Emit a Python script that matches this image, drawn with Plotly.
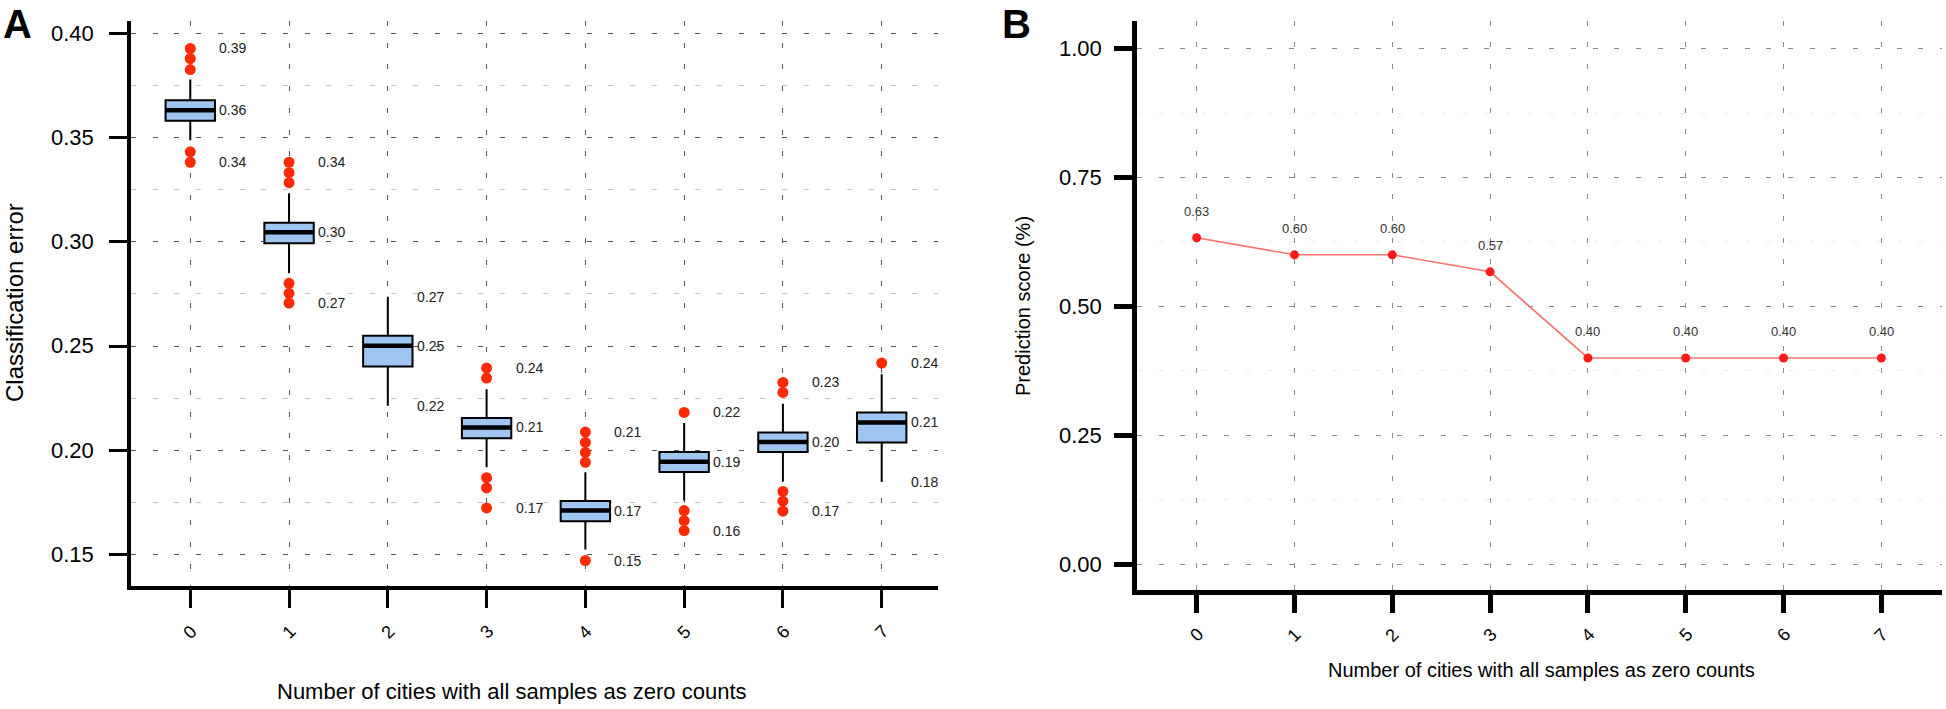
import plotly.graph_objects as go

W, H = 1946, 709

# ---------------- data ----------------
cities = [0, 1, 2, 3, 4, 5, 6, 7]
city_labels = ["0", "1", "2", "3", "4", "5", "6", "7"]

# Panel A: classification error box plots
q1 = [0.3581, 0.2993, 0.2402, 0.2057, 0.1659, 0.1895, 0.1991, 0.2037]
median = [0.3632, 0.3046, 0.2501, 0.2109, 0.1710, 0.1945, 0.2039, 0.2133]
q3 = [0.3680, 0.3092, 0.2549, 0.2154, 0.1756, 0.1991, 0.2085, 0.2181]
lower_whisker = [0.3488, 0.2849, 0.2213, 0.1918, 0.1523, 0.1758, 0.1850, 0.1848]
upper_whisker = [0.3779, 0.3233, 0.2737, 0.2293, 0.1894, 0.2130, 0.2223, 0.2365]
outliers = [
    [0.3928, 0.3880, 0.3827, 0.3432, 0.3382],
    [0.3382, 0.3332, 0.3284, 0.2801, 0.2753, 0.2706],
    [],
    [0.2394, 0.2346, 0.1868, 0.1819, 0.1723],
    [0.2087, 0.2037, 0.1989, 0.1942, 0.1470],
    [0.2181, 0.1710, 0.1662, 0.1614],
    [0.2325, 0.2277, 0.1802, 0.1755, 0.1707],
    [0.2418],
]
a_yticks = [0.15, 0.20, 0.25, 0.30, 0.35, 0.40]

# Panel B: prediction score
prediction_score = [0.633, 0.600, 0.600, 0.567, 0.400, 0.400, 0.400, 0.400]
b_yticks = [0.00, 0.25, 0.50, 0.75, 1.00]

x_title = "Number of cities with all samples as zero counts"
ya_title = "Classification error"
yb_title = "Prediction score (%)"

FONT = "Liberation Sans, Arial, Helvetica, sans-serif"
BOX_HALF = 0.25


def px_x(p):
    return p / W


def px_y(p):
    return 1 - p / H


fig = go.Figure()

# ---------------- Panel A ----------------
fig.add_trace(go.Box(
    x=cities, q1=q1, median=median, q3=q3,
    lowerfence=lower_whisker, upperfence=upper_whisker,
    boxpoints=False, width=2 * BOX_HALF, whiskerwidth=0,
    fillcolor="#9fc6f3", line=dict(color="black", width=2),
    xaxis="x", yaxis="y", hoverinfo="skip",
))

mx, my = [], []
for c, m in zip(cities, median):
    mx += [c - BOX_HALF, c + BOX_HALF, None]
    my += [m, m, None]
fig.add_trace(go.Scatter(x=mx, y=my, mode="lines",
                         line=dict(color="black", width=4.5),
                         xaxis="x", yaxis="y", hoverinfo="skip"))

ox, oy = [], []
for c, outs in zip(cities, outliers):
    ox += [c] * len(outs)
    oy += outs
fig.add_trace(go.Scatter(x=ox, y=oy, mode="markers",
                         marker=dict(color="#ff2a00", size=11, line=dict(width=0)),
                         xaxis="x", yaxis="y", hoverinfo="skip"))

annotations = []
for c, m, lo_w, hi_w, outs in zip(cities, median, lower_whisker, upper_whisker, outliers):
    vals = outs + [lo_w, hi_w]
    for v in (max(vals), m, min(vals)):
        annotations.append(dict(
            x=c, y=v, xref="x", yref="y", text=f"{v:.2f}", showarrow=False,
            xanchor="left", yanchor="middle", xshift=27,
            font=dict(family=FONT, size=14, color="#222222")))

# ---------------- Panel B ----------------
fig.add_trace(go.Scatter(
    x=cities, y=prediction_score, mode="lines+markers",
    line=dict(color="#ff7070", width=1.6),
    marker=dict(color="#ff1a1a", size=9),
    xaxis="x2", yaxis="y2", hoverinfo="skip"))

for c, v in zip(cities, prediction_score):
    annotations.append(dict(
        x=c, y=v, xref="x2", yref="y2", text=f"{v:.2f}", showarrow=False,
        xanchor="center", yanchor="middle", yshift=26,
        font=dict(family=FONT, size=13, color="#333333")))

# ---------------- tick labels (placed as text, R-style spacing) ----------------
tickfont = dict(family=FONT, size=22, color="black")
xtickfont = dict(family=FONT, size=18, color="black")
for v in a_yticks:
    annotations.append(dict(x=px_x(96), y=v, xref="paper", yref="y",
                            text=f"{v:.2f}", showarrow=False, xanchor="right",
                            yanchor="middle", font=tickfont))
for v in b_yticks:
    annotations.append(dict(x=px_x(1104), y=v, xref="paper", yref="y2",
                            text=f"{v:.2f}", showarrow=False, xanchor="right",
                            yanchor="middle", font=tickfont))
for c, lab in zip(cities, city_labels):
    annotations.append(dict(x=c, y=px_y(632), xref="x", yref="paper", text=lab,
                            showarrow=False, textangle=-45, xanchor="center",
                            yanchor="middle", font=xtickfont))
    annotations.append(dict(x=c, y=px_y(635), xref="x2", yref="paper", text=lab,
                            showarrow=False, textangle=-45, xanchor="center",
                            yanchor="middle", font=xtickfont))

# ---------------- titles / panel letters ----------------
annotations += [
    dict(x=px_x(1), y=1, xref="paper", yref="paper", text="<b>A</b>",
         showarrow=False, xanchor="left", yanchor="top",
         font=dict(family=FONT, size=40, color="black")),
    dict(x=px_x(1000), y=1, xref="paper", yref="paper", text="<b>B</b>",
         showarrow=False, xanchor="left", yanchor="top",
         font=dict(family=FONT, size=40, color="black")),
    dict(x=px_x(14), y=px_y(303), xref="paper", yref="paper", text=ya_title,
         showarrow=False, textangle=-90, xanchor="center", yanchor="middle",
         font=dict(family=FONT, size=24, color="black")),
    dict(x=px_x(512), y=px_y(691), xref="paper", yref="paper", text=x_title,
         showarrow=False, xanchor="center", yanchor="middle",
         font=dict(family=FONT, size=22, color="black")),
    dict(x=px_x(1023), y=px_y(306), xref="paper", yref="paper", text=yb_title,
         showarrow=False, textangle=-90, xanchor="center", yanchor="middle",
         font=dict(family=FONT, size=20, color="black")),
    dict(x=px_x(1541), y=px_y(670), xref="paper", yref="paper", text=x_title,
         showarrow=False, xanchor="center", yanchor="middle",
         font=dict(family=FONT, size=20, color="black")),
]

DASH = "5px,16.7px"

common_x = dict(
    tickmode="array", tickvals=cities, showticklabels=False,
    showline=True, linecolor="black", ticks="outside", ticklen=18,
    tickcolor="black", showgrid=True, griddash=DASH, gridwidth=1,
    zeroline=False, automargin=False, fixedrange=True,
)

fig.update_layout(
    width=W, height=H,
    margin=dict(l=0, r=0, t=0, b=0),
    paper_bgcolor="white", plot_bgcolor="white",
    showlegend=False,
    xaxis=dict(domain=[px_x(131), px_x(938)], range=[-0.6, 7.57], anchor="y",
               linewidth=4, tickwidth=3, gridcolor="#555555", **common_x),
    yaxis=dict(domain=[px_y(586), px_y(21)], range=[0.1348, 0.406], anchor="x",
               tickmode="array", tickvals=a_yticks, showticklabels=False,
               showline=True, linewidth=4, linecolor="black", ticks="outside",
               ticklen=18, tickwidth=3, tickcolor="black",
               showgrid=True, gridcolor="#555555", griddash=DASH, gridwidth=1,
               minor=dict(dtick=0.025, tick0=0, showgrid=True, gridcolor="#c4c4c4",
                          griddash=DASH, gridwidth=1),
               zeroline=False, automargin=False, fixedrange=True),
    xaxis2=dict(domain=[px_x(1137), px_x(1942)], range=[-0.61, 7.62], anchor="y2",
                linewidth=5, tickwidth=5, gridcolor="#8a8a8a", **common_x),
    yaxis2=dict(domain=[px_y(590), px_y(20.7)], range=[-0.05, 1.054], anchor="x2",
                tickmode="array", tickvals=b_yticks, showticklabels=False,
                showline=True, linewidth=5, linecolor="black", ticks="outside",
                ticklen=18, tickwidth=5, tickcolor="black",
                showgrid=True, gridcolor="#8a8a8a", griddash=DASH, gridwidth=1,
                minor=dict(dtick=0.125, tick0=0, showgrid=True, gridcolor="#ececec",
                           griddash=DASH, gridwidth=1),
                zeroline=False, automargin=False, fixedrange=True),
    annotations=annotations,
)

fig.write_html(
    "out.html",
    config={"displayModeBar": False, "staticPlot": True},
    post_script="document.body.style.margin='0';document.body.style.overflow='hidden';",
)
